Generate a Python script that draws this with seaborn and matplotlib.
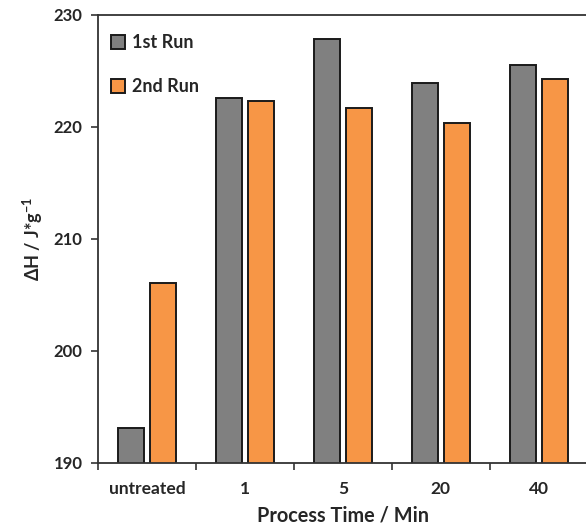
import numpy as np
import pandas as pd
import matplotlib
matplotlib.use('Agg')
import matplotlib.pyplot as plt
import seaborn as sns

# Data
categories = ['untreated', '1', '5', '20', '40']
run1_values = [193.1, 222.6, 227.9, 223.9, 225.5]
run2_values = [206.1, 222.3, 221.7, 220.4, 224.3]
series_names = ['1st Run', '2nd Run']
y_ticks = [190, 200, 210, 220, 230]

df = pd.DataFrame({
    'time': categories * 2,
    'dH': run1_values + run2_values,
    'run': [series_names[0]] * len(categories) + [series_names[1]] * len(categories),
})

sns.set_style('white')
plt.rcParams['font.family'] = ['Lato', 'DejaVu Sans']
plt.rcParams['mathtext.fontset'] = 'custom'
plt.rcParams['mathtext.rm'] = 'Lato'
plt.rcParams['mathtext.bf'] = 'Lato:bold'

fig = plt.figure(figsize=(5.86, 5.26), dpi=100)
ax = fig.add_axes([0.167, 0.1198, 0.836, 0.8517])

sns.barplot(data=df, x='time', y='dH', hue='run', order=categories,
            hue_order=series_names, palette=['#808080', '#F79646'],
            width=0.66, gap=0.2, edgecolor='#1a1a1a', linewidth=1.4,
            saturation=1, ax=ax)

ax.set_ylim(190, 230)
ax.set_xlim(-0.5, 4.5)
ax.set_yticks(y_ticks)
ax.set_yticklabels([str(t) for t in y_ticks], fontsize=12, fontweight='bold')
ax.set_xticks(range(len(categories)))
ax.set_xticklabels(categories, fontsize=12.5, fontweight='bold')
ax.set_xticks(np.arange(-0.5, 5.0, 1.0), minor=True)
ax.tick_params(axis='x', which='major', length=0, pad=13)
ax.tick_params(axis='x', which='minor', length=5, width=1.2, color='#333333', direction='out', bottom=True)
ax.tick_params(axis='y', length=5, width=1.2, color='#333333', direction='out', left=True, pad=6)

for s in ax.spines.values():
    s.set_color('#333333')
    s.set_linewidth(1.3)

ax.set_xlabel('Process Time / Min', fontsize=14.3, fontweight='bold', labelpad=6)
ax.set_ylabel(r'$\mathbf{\Delta H}$ / J*g$^{\mathbf{-1}}$', fontsize=13, fontweight='bold', labelpad=6)

leg = ax.legend(loc='upper left', frameon=False, prop={'weight': 'bold', 'size': 13},
                handlelength=0.8, handleheight=0.8, handletextpad=0.4, labelspacing=1.5,
                borderaxespad=0.3, bbox_to_anchor=(0.0, 0.985))
for h in leg.legend_handles:
    h.set_edgecolor('#1a1a1a')
    h.set_linewidth(1.4)

fig.savefig('out.png', dpi=100)
